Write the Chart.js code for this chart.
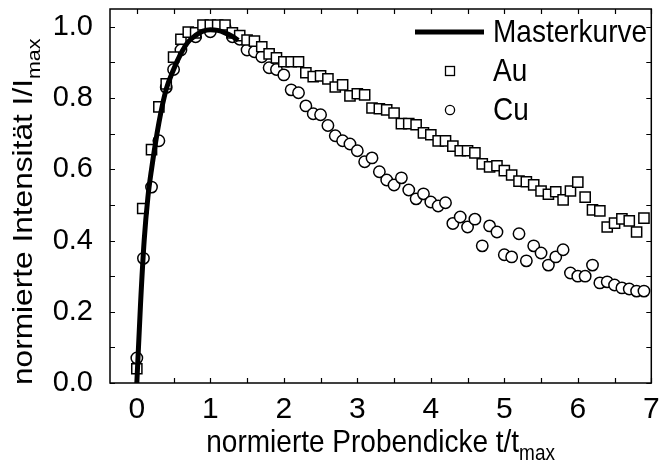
<!DOCTYPE html>
<html><head><meta charset="utf-8">
<script src="https://cdn.jsdelivr.net/npm/chart.js@4.4.1/dist/chart.umd.min.js"></script>
<style>html,body{margin:0;padding:0;background:#fff}</style>
</head><body>
<canvas id="c" width="660" height="462"></canvas>
<script>
// ---- data ----
const xTicks = [0, 1, 2, 3, 4, 5, 6, 7];
const yTicks = [0.0, 0.2, 0.4, 0.6, 0.8, 1.0];
const xMinorTicks = [0.5, 1.5, 2.5, 3.5, 4.5, 5.5, 6.5];
const yMinorTicks = [0.1, 0.3, 0.5, 0.7, 0.9];

const masterX = [0, 0.05, 0.1, 0.15, 0.2, 0.3, 0.4, 0.5, 0.6, 0.7, 0.8, 0.9, 1.0, 1.1, 1.2, 1.3, 1.38];
const masterY = [0, 0.22, 0.40, 0.52, 0.60, 0.73, 0.825, 0.88, 0.925, 0.958, 0.976, 0.988, 0.992, 0.99, 0.983, 0.973, 0.962];

const auX = [0.0,0.08,0.2,0.3,0.4,0.5,0.6,0.7,0.8,0.9,
             1.0,1.1,1.2,1.3,1.4,1.5,1.6,1.7,1.8,1.9,
             2.0,2.1,2.2,2.3,2.4,2.5,2.6,2.7,2.8,2.9,
             3.0,3.1,3.2,3.3,3.4,3.5,3.6,3.7,3.8,3.9,
             4.0,4.1,4.2,4.3,4.4,4.5,4.6,4.7,4.8,4.9,
             5.0,5.1,5.2,5.3,5.4,5.5,5.6,5.7,5.8,5.9,
             6.0,6.1,6.2,6.3,6.4,6.5,6.6,6.7,6.8,6.9];
const auY = [0.04,0.49,0.655,0.775,0.84,0.915,0.965,0.985,0.983,1.005,
             1.005,1.005,1.005,0.983,0.975,0.963,0.96,0.944,0.924,0.913,
             0.902,0.902,0.902,0.871,0.86,0.862,0.854,0.831,0.837,0.806,
             0.812,0.809,0.772,0.77,0.767,0.758,0.728,0.728,0.725,0.702,
             0.697,0.68,0.68,0.665,0.652,0.652,0.646,0.615,0.607,0.61,
             0.596,0.584,0.567,0.565,0.556,0.539,0.53,0.537,0.514,0.539,
             0.564,0.522,0.486,0.483,0.438,0.449,0.461,0.455,0.424,0.463];

const cuX = [0.0,0.09,0.2,0.3,0.4,0.5,0.6,0.8,1.0,1.2,1.3,
             1.4,1.5,1.6,1.7,1.8,1.9,
             2.0,2.1,2.2,2.3,2.4,2.5,2.6,2.7,2.8,2.9,
             3.0,3.1,3.2,3.3,3.4,3.5,3.6,3.7,3.8,3.9,
             4.0,4.1,4.2,4.3,4.4,4.5,4.6,4.7,4.8,4.9,
             5.0,5.1,5.2,5.3,5.4,5.5,5.6,5.7,5.8,5.9,
             6.0,6.1,6.2,6.3,6.4,6.5,6.6,6.7,6.8,6.9];
const cuY = [0.07,0.35,0.55,0.68,0.83,0.88,0.935,0.972,0.986,1.0,0.972,
             0.965,0.935,0.93,0.916,0.885,0.88,
             0.865,0.823,0.815,0.778,0.756,0.753,0.723,0.694,0.68,0.671,
             0.652,0.621,0.632,0.593,0.57,0.556,0.576,0.542,0.517,0.531,
             0.508,0.497,0.506,0.448,0.466,0.438,0.46,0.385,0.441,0.424,
             0.36,0.354,0.419,0.343,0.385,0.365,0.331,0.354,0.374,0.309,
             0.3,0.3,0.331,0.281,0.284,0.275,0.267,0.264,0.258,0.258];

const seriesNames = ['Masterkurve', 'Au', 'Cu'];
const xTitle = 'normierte Probendicke t/t';
const xTitleSub = 'max';
const yTitle = 'normierte Intensität I/I';
const yTitleSub = 'max';

// ---- chart ----
const FONT = '"Liberation Sans", Arial, Helvetica, sans-serif';
const STRETCH = 1.13;
const zip = (xs, ys) => xs.map((v, i) => ({x: v, y: ys[i]}));

function stretchedText(ctx, txt, x, y, sx, sy) {
  ctx.save();
  ctx.translate(x, y);
  ctx.scale(sx, sy);
  ctx.fillText(txt, 0, 0);
  ctx.restore();
}

const decor = {
  id: 'decor',
  afterDatasetsDraw(chart) {
    const {ctx, chartArea: a, scales: {x, y}} = chart;
    ctx.save();
    ctx.strokeStyle = '#000';
    ctx.lineWidth = 1.2;
    ctx.beginPath();
    const T = 5;
    [...xTicks, ...xMinorTicks].forEach(v => {
      const p = Math.round(x.getPixelForValue(v)) + 0.5;
      ctx.moveTo(p, a.bottom); ctx.lineTo(p, a.bottom - T);
      ctx.moveTo(p, a.top); ctx.lineTo(p, a.top + T);
    });
    [...yTicks, ...yMinorTicks].forEach(v => {
      const p = Math.round(y.getPixelForValue(v)) + 0.5;
      ctx.moveTo(a.left, p); ctx.lineTo(a.left + T, p);
      ctx.moveTo(a.right, p); ctx.lineTo(a.right - T, p);
    });
    ctx.stroke();
    ctx.lineWidth = 1.5;
    ctx.strokeRect(a.left, a.top, a.right - a.left, a.bottom - a.top);
    ctx.restore();
  },
  afterDraw(chart) {
    const {ctx, chartArea: a} = chart;
    ctx.save();
    ctx.fillStyle = '#000';
    ctx.textBaseline = 'alphabetic'; ctx.textAlign = 'left';
    const big = '28px ' + FONT, small = '19px ' + FONT;
    // x title with subscript
    ctx.font = big; const w1 = ctx.measureText(xTitle).width;
    ctx.font = small; const w2 = ctx.measureText(xTitleSub).width;
    const cx = (a.left + a.right) / 2;
    const sx0 = cx - (w1 + w2) / 2;
    ctx.font = big; stretchedText(ctx, xTitle, sx0, 452, 1, STRETCH);
    ctx.font = small; stretchedText(ctx, xTitleSub, sx0 + w1, 460, 1, STRETCH);
    // y title rotated (text direction is vertical, so stretch along text)
    ctx.font = big; const v1 = ctx.measureText(yTitle).width;
    ctx.save();
    ctx.translate(32, 385);
    ctx.rotate(-Math.PI / 2);
    ctx.scale(STRETCH, 1);
    ctx.font = big; ctx.fillText(yTitle, 0, 0);
    ctx.font = small; ctx.fillText(yTitleSub, v1, 8);
    ctx.restore();
    // legend
    ctx.font = '28px ' + FONT;
    ctx.textBaseline = 'middle';
    ctx.strokeStyle = '#000';
    ctx.lineWidth = 5;
    ctx.beginPath(); ctx.moveTo(415, 32); ctx.lineTo(484, 32); ctx.stroke();
    stretchedText(ctx, seriesNames[0], 493, 33, 1, STRETCH);
    ctx.lineWidth = 1.3;
    ctx.strokeRect(445.5, 66.5, 9, 9);
    stretchedText(ctx, seriesNames[1], 493, 72, 1, STRETCH);
    ctx.beginPath(); ctx.arc(450, 110, 4.6, 0, Math.PI * 2); ctx.stroke();
    stretchedText(ctx, seriesNames[2], 493, 111, 1, STRETCH);
    ctx.restore();
  }
};

new Chart(document.getElementById('c'), {
  type: 'scatter',
  data: {
    datasets: [
      {label: seriesNames[0], type: 'line', data: zip(masterX, masterY), borderColor: '#000', borderWidth: 5,
       pointRadius: 0, cubicInterpolationMode: 'monotone', fill: false, showLine: true},
      {label: seriesNames[1], data: zip(auX, auY), pointStyle: 'rect', pointRadius: 7.2,
       borderColor: '#000', backgroundColor: '#fff', pointBorderWidth: 1.5},
      {label: seriesNames[2], data: zip(cuX, cuY), pointStyle: 'circle', pointRadius: 5.7,
       borderColor: '#000', backgroundColor: '#fff', pointBorderWidth: 1.5}
    ]
  },
  options: {
    responsive: false,
    animation: false,
    layout: {padding: {left: 0, right: 5, top: 9, bottom: 0}},
    plugins: {legend: {display: false}, tooltip: {enabled: false}},
    scales: {
      x: {
        type: 'linear', min: -0.365, max: 7,
        grid: {display: false}, border: {display: false},
        afterBuildTicks: s => { s.ticks = xTicks.map(v => ({value: v})); },
        afterFit: s => { s.height = 79; s.paddingLeft = 0; s.paddingRight = 0; },
        ticks: {color: '#000', font: {size: 30, family: FONT}, padding: 1, maxRotation: 0,
                callback: v => String(v)}
      },
      y: {
        type: 'linear', min: 0, max: 1.05,
        grid: {display: false}, border: {display: false},
        afterBuildTicks: s => { s.ticks = yTicks.map(v => ({value: v})); },
        afterFit: s => { s.width = 110; s.paddingTop = 0; s.paddingBottom = 0; },
        ticks: {color: '#000', font: {size: 29, family: FONT}, padding: 9,
                callback: v => Number(v).toFixed(1)}
      }
    }
  },
  plugins: [decor]
});
</script>
</body></html>
